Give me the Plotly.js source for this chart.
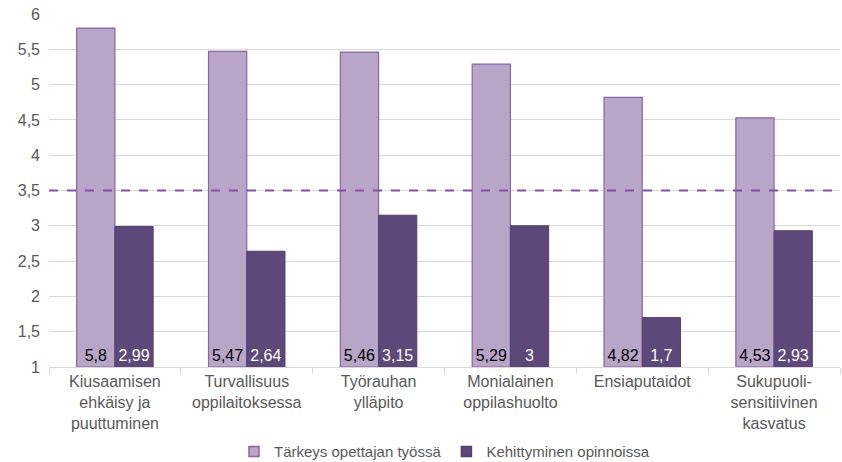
<!DOCTYPE html>
<html><head><meta charset="utf-8">
<script src="https://cdn.plot.ly/plotly-3.0.1.min.js"></script>
<style>html,body{margin:0;padding:0;background:#fff}#chart{width:842px;height:462px}</style>
</head><body><div id="chart"></div>
<script>
const categories = ["Kiusaamisen<br>ehkäisy ja<br>puuttuminen","Turvallisuus<br>oppilaitoksessa","Työrauhan<br>ylläpito","Monialainen<br>oppilashuolto","Ensiaputaidot","Sukupuoli-<br>sensitiivinen<br>kasvatus"];
const importance = [5.8, 5.47, 5.46, 5.29, 4.82, 4.53];
const development = [2.99, 2.64, 3.15, 3, 1.7, 2.93];
const seriesNames = ["Tärkeys opettajan työssä","Kehittyminen opinnoissa"];
const refLevel = 3.5;
const axisMin = 1;
const fmt = v => String(v).replace('.', ',');
const F = 'Liberation Sans, Arial, sans-serif';
const lightColor = '#b8a5c7', lightLine = '#8a64a8';
const darkColor = '#5e4779', darkLine = '#553f70';
const traces = [
 {type:'bar', name:seriesNames[0], x:categories, base:axisMin, y:importance.map(v=>v-axisMin),
  text:importance.map(fmt), textposition:'inside', insidetextanchor:'start', textangle:0,
  textfont:{color:'#000', size:16, family:F}, showlegend:false,
  marker:{color:lightColor, line:{color:lightLine, width:1.2}}},
 {type:'bar', name:seriesNames[1], x:categories, base:axisMin, y:development.map(v=>v-axisMin),
  text:development.map(fmt), textposition:'inside', insidetextanchor:'start', textangle:0,
  textfont:{color:'#fff', size:16, family:F}, showlegend:false,
  marker:{color:darkColor, line:{color:darkLine, width:1}}},
 {type:'scatter', mode:'markers', name:seriesNames[0], x:[null], y:[null],
  marker:{symbol:'square', size:10, color:lightColor, line:{color:lightLine, width:1.5}}},
 {type:'scatter', mode:'markers', name:seriesNames[1], x:[null], y:[null],
  marker:{symbol:'square', size:10, color:darkColor, line:{color:darkLine, width:1.5}}}
];
const layout = {
 width:842, height:462, margin:{l:49, r:2, t:14, b:95, autoexpand:false},
 separators:', ',
 font:{family:F, color:'#595959', size:16},
 bargap:0.42, bargroupgap:0, barmode:'group',
 plot_bgcolor:'#fff', paper_bgcolor:'#fff',
 xaxis:{type:'category', showgrid:false, ticks:'outside', ticklen:6, tickcolor:'#d9d9d9', showline:true, linecolor:'#d9d9d9',
   tickson:'boundaries', tickfont:{size:16, color:'#595959'}, automargin:false},
 yaxis:{range:[1,6], dtick:0.5, gridcolor:'#d9d9d9', zeroline:false, showline:false,
   tickfont:{size:16, color:'#595959'}, ticklabelstandoff:8, automargin:false},
 shapes:[{type:'line', xref:'paper', x0:0, x1:1, yref:'y', y0:refLevel, y1:refLevel,
   line:{color:'#8052a0', width:2, dash:'dash'}}],
 legend:{orientation:'h', x:0.5, xanchor:'center', y:-0.24, yanchor:'middle', itemwidth:30,
   font:{size:15, color:'#595959'}, tracegroupgap:0},
 showlegend:true
};
Plotly.newPlot('chart', traces, layout, {displayModeBar:false, staticPlot:true});
</script></body></html>
